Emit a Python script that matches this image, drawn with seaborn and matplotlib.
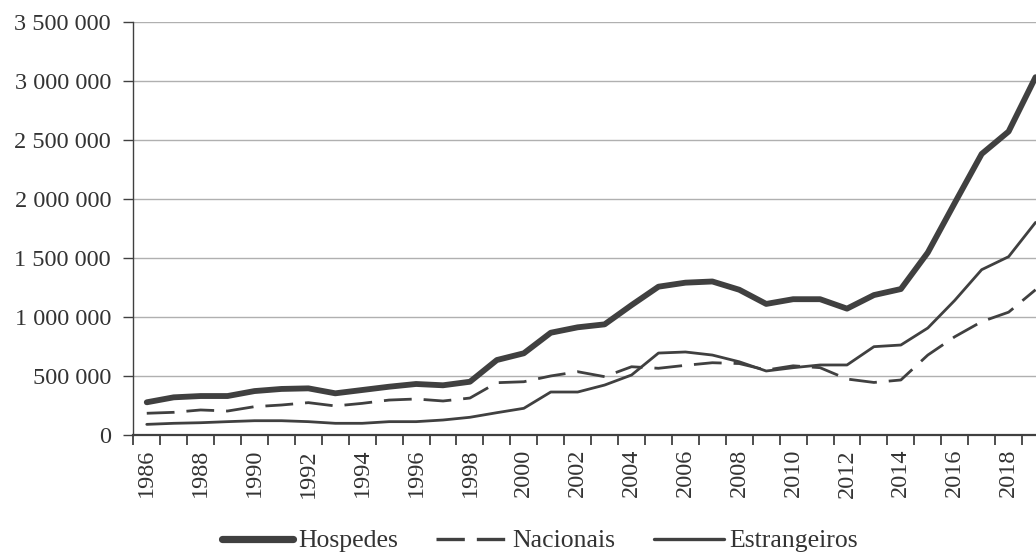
import matplotlib
matplotlib.use("Agg")
import matplotlib.pyplot as plt
import matplotlib.ticker as mticker
from matplotlib.lines import Line2D
import seaborn as sns
import pandas as pd

years = list(range(1986, 2020))
hospedes = [277000, 319000, 330000, 330000, 372000, 390000, 395000, 353000, 381000, 409000,
            432000, 421000, 451000, 635000, 692000, 866000, 912000, 937000, 1100000, 1256000,
            1290000, 1300000, 1230000, 1110000, 1150000, 1150000, 1070000, 1185000, 1236000, 1545000,
            1965000, 2380000, 2570000, 3030000]
nacionais = [184000, 192000, 212000, 203000, 240000, 254000, 274000, 246000, 268000, 296000,
             305000, 288000, 313000, 443000, 451000, 500000, 536000, 494000, 578000, 565000,
             590000, 612000, 605000, 550000, 586000, 570000, 474000, 445000, 466000, 677000,
             832000, 960000, 1040000, 1230000]
estrangeiros = [90000, 99000, 104000, 113000, 121000, 121000, 113000, 99000, 99000, 113000,
                113000, 127000, 150000, 189000, 226000, 364000, 364000, 423000, 508000, 694000,
                703000, 677000, 620000, 542000, 570000, 593000, 593000, 748000, 762000, 906000,
                1140000, 1400000, 1510000, 1800000]
series_names = ["Hospedes", "Nacionais", "Estrangeiros"]
y_ticks = [0, 500000, 1000000, 1500000, 2000000, 2500000, 3000000, 3500000]
x_label_years = list(range(1986, 2019, 2))

sns.set_theme(style="white")
plt.rcParams["font.family"] = ["Liberation Serif", "DejaVu Serif"]

df = pd.DataFrame({"Ano": years, "Hospedes": hospedes, "Nacionais": nacionais,
                   "Estrangeiros": estrangeiros})

fig = plt.figure(figsize=(10.36, 5.54), dpi=100)
ax = fig.add_axes([133.3 / 1036, (554 - 435) / 554, (1049 - 133.3) / 1036, (435 - 21.7) / 554])

col = "#404040"
styles = {
    "Hospedes": dict(linewidth=4.2, color=col),
    "Nacionais": dict(linewidth=2.0, color=col, dashes=(10, 4.3)),
    "Estrangeiros": dict(linewidth=2.0, color=col),
}
leg_widths = {"Hospedes": 5.2, "Nacionais": 2.4, "Estrangeiros": 2.4}
handles = []
for name in series_names:
    st = dict(styles[name])
    dashes = st.pop("dashes", None)
    sns.lineplot(data=df, x="Ano", y=name, ax=ax, label=name, legend=False, **st)
    ln = ax.get_lines()[-1]
    if dashes is not None:
        ln.set_dashes(dashes)
    h = Line2D([], [], color=col, linewidth=leg_widths[name],
               linestyle=(0, (8.5, 3.6)) if dashes is not None else "-")
    handles.append(h)

ax.set_xlim(1985.5, 2019.5)
ax.set_ylim(0, 3500000)
ax.set_yticks(y_ticks)
ax.yaxis.set_major_formatter(mticker.FuncFormatter(lambda v, p: f"{int(v):,}".replace(",", " ")))
ax.set_xticks(x_label_years)
ax.set_xticklabels([str(y) for y in x_label_years], rotation=90)
ax.set_xticks([y - 0.5 for y in years] + [2019.5], minor=True)
ax.tick_params(axis="x", which="major", length=0, pad=10, labelsize=17.5, colors="#333333")
ax.tick_params(axis="x", which="minor", length=7, width=1.3, color=col, direction="out", bottom=True)
ax.tick_params(axis="y", which="major", length=7, width=1.0, color=col, direction="out", left=True,
               pad=9, labelsize=17.5, labelcolor="#333333")
ax.set_xlabel("")
ax.set_ylabel("")
ax.grid(axis="y", color="#b0b0b0", linewidth=1.0)
ax.grid(axis="x", visible=False)
for s in ["top", "right"]:
    ax.spines[s].set_visible(False)
ax.spines["left"].set_color(col)
ax.spines["left"].set_linewidth(1.0)
ax.spines["bottom"].set_color(col)
ax.spines["bottom"].set_linewidth(1.6)

leg = fig.legend(handles=handles, labels=series_names, loc="center",
                 bbox_to_anchor=(540 / 1036, 1 - 541 / 554), ncol=3, frameon=False,
                 fontsize=18.5, handlelength=2.75, handletextpad=0.2, columnspacing=1.5,
                 labelcolor="#333333")

fig.savefig("out.png", dpi=100)
